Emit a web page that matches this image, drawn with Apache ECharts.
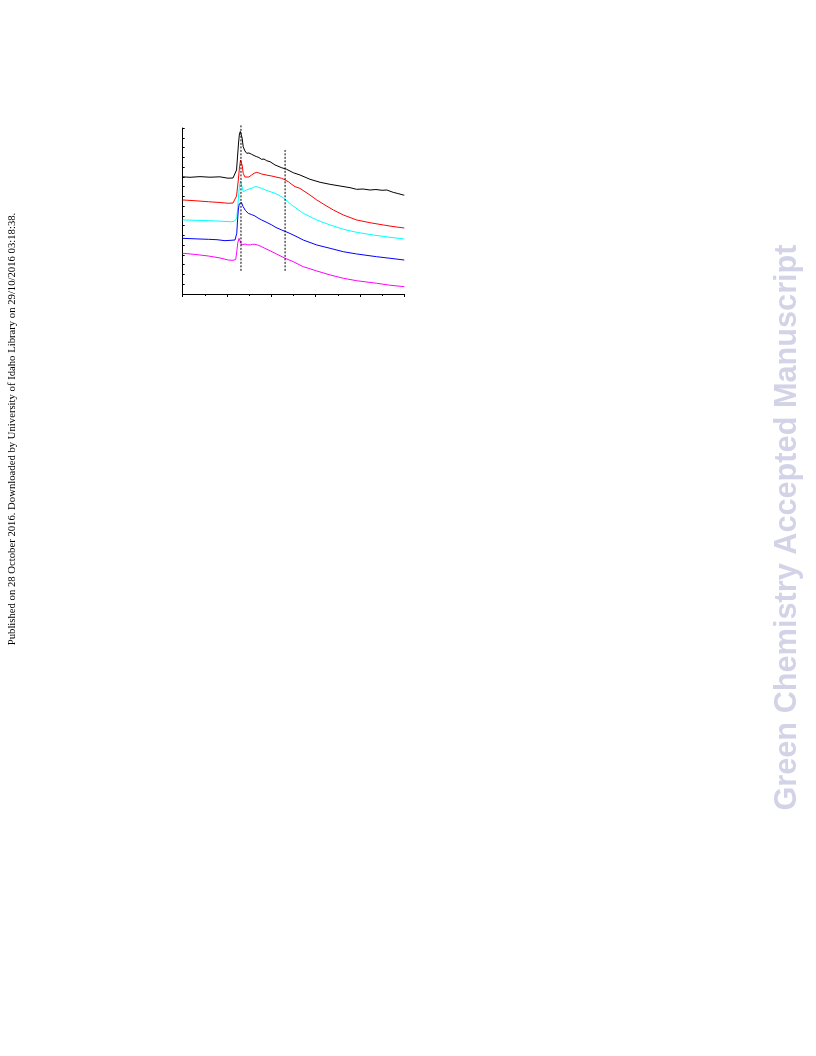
<!DOCTYPE html>
<html>
<head>
<meta charset="utf-8">
<script src="https://cdn.jsdelivr.net/npm/echarts@6/dist/echarts.min.js"></script>
<style>html,body{margin:0;padding:0;background:#fff;}#c{width:816px;height:1056px;}</style>
</head>
<body>
<div id="c"></div>
<script>
// Data (arbitrary units: x 0..10, y offset-stacked 0..17)
const black = [[0,12.0],[0.33,11.95],[0.78,12.02],[1.23,11.96],[1.68,12.0],[2.04,11.86],[2.27,11.88],[2.36,12.08],[2.43,12.70],[2.47,13.93],[2.52,15.46],[2.56,16.39],[2.60,16.64],[2.63,16.59],[2.68,15.98],[2.73,15.08],[2.81,14.64],[2.89,14.41],[2.99,14.44],[3.11,14.31],[3.22,14.18],[3.34,14.06],[3.44,13.98],[3.56,13.79],[3.67,13.82],[3.79,13.65],[3.94,13.55],[4.17,13.21],[4.47,12.93],[4.69,12.77],[4.99,12.42],[5.29,12.19],[5.74,11.75],[6.20,11.44],[6.65,11.23],[7.10,11.06],[7.55,10.89],[7.85,10.72],[8.14,10.75],[8.45,10.65],[8.72,10.70],[9.0,10.62],[9.21,10.65],[9.50,10.41],[9.71,10.29],[9.95,10.14],[10,10.12]];
const red = [[0,9.63],[0.56,9.55],[1.16,9.45],[1.68,9.37],[2.06,9.29],[2.27,9.32],[2.36,9.45],[2.43,10.04],[2.47,10.86],[2.51,11.67],[2.56,12.90],[2.61,13.72],[2.64,13.77],[2.69,13.11],[2.73,12.36],[2.81,11.98],[2.89,11.85],[2.99,11.98],[3.11,12.19],[3.22,12.36],[3.34,12.46],[3.44,12.39],[3.56,12.29],[3.76,12.19],[4.02,12.08],[4.21,11.98],[4.47,11.85],[4.62,11.67],[4.77,11.50],[4.93,11.21],[5.07,10.99],[5.29,10.82],[5.74,10.14],[6.05,9.63],[6.34,9.22],[6.80,8.60],[7.25,8.09],[7.85,7.58],[8.45,7.30],[9.05,7.07],[9.49,6.91],[10,6.76]];
const cyan = [[0,7.58],[0.56,7.55],[1.16,7.51],[1.68,7.46],[2.21,7.40],[2.34,7.48],[2.44,7.75],[2.48,8.81],[2.52,10.04],[2.56,11.06],[2.61,11.57],[2.65,11.37],[2.69,10.86],[2.73,10.48],[2.81,10.55],[2.89,10.65],[2.99,10.75],[3.11,10.82],[3.22,10.96],[3.34,10.99],[3.44,10.91],[3.56,10.82],[3.71,10.68],[3.86,10.55],[4.17,10.31],[4.47,9.96],[4.66,9.63],[4.92,9.11],[5.44,8.26],[6.05,7.58],[6.65,7.07],[7.25,6.63],[7.85,6.32],[8.60,6.04],[9.35,5.81],[10,5.63]];
const blue = [[0,5.70],[0.56,5.65],[1.16,5.60],[1.55,5.56],[1.91,5.46],[2.18,5.50],[2.36,5.53],[2.44,6.22],[2.47,7.37],[2.51,8.60],[2.55,9.22],[2.61,9.42],[2.65,9.37],[2.73,8.94],[2.83,8.55],[2.96,8.26],[3.10,8.14],[3.26,7.99],[3.40,7.78],[3.56,7.58],[3.76,7.37],[4.02,7.07],[4.21,6.81],[4.47,6.55],[4.66,6.38],[4.84,6.20],[5.11,5.91],[5.44,5.53],[6.05,5.02],[6.65,4.68],[7.25,4.33],[7.85,4.10],[8.75,3.82],[9.35,3.66],[10,3.48]];
const magenta = [[0,4.17],[0.56,4.05],[1.16,3.89],[1.68,3.69],[2.06,3.48],[2.27,3.45],[2.39,3.53],[2.44,4.30],[2.48,5.19],[2.54,5.70],[2.59,5.58],[2.66,5.02],[2.72,5.02],[2.81,5.12],[2.92,5.05],[3.04,5.02],[3.15,5.09],[3.26,5.09],[3.38,5.02],[3.49,4.92],[3.71,4.68],[3.94,4.43],[4.17,4.17],[4.39,3.92],[4.62,3.66],[4.99,3.31],[5.44,2.80],[6.05,2.36],[6.65,1.95],[7.25,1.61],[7.85,1.36],[8.75,1.10],[9.35,0.90],[10,0.75]];
const guide1 = [[2.63,2.37],[2.63,17.3]];
const guide2 = [[4.62,2.37],[4.62,14.75]];
const sideNote = 'Published on 28 October 2016. Downloaded by University of Idaho Library on 29/10/2016 03:18:38.';
const watermark = 'Green Chemistry Accepted Manuscript';

const chart = echarts.init(document.getElementById('c'), null, {renderer:'canvas'});
function curve(d, color){
  return {type:'line', data:d, showSymbol:false, symbol:'none', smooth:false,
    lineStyle:{color:color, width:1}, animation:false};
}
function guide(d){
  return {type:'line', data:d, showSymbol:false, symbol:'none', clip:false,
    lineStyle:{color:'#000', width:1, type:[2,1.5]}, animation:false};
}
chart.setOption({
  backgroundColor:'#fff',
  animation:false,
  grid:{left:182.7, right:816-404.3, top:128, bottom:1056-294, containLabel:false},
  xAxis:{type:'value', min:0, max:10, interval:2,
    axisLine:{show:true, lineStyle:{color:'#000', width:1}},
    axisTick:{show:true, inside:false, length:3, lineStyle:{color:'#000', width:1}},
    minorTick:{show:true, splitNumber:2, length:2, lineStyle:{color:'#000', width:1}},
    axisLabel:{show:false}, splitLine:{show:false}},
  yAxis:{type:'value', min:0, max:17, interval:1,
    axisLine:{show:true, lineStyle:{color:'#000', width:1}},
    axisTick:{show:true, inside:true, length:2, lineStyle:{color:'#000', width:1}},
    axisLabel:{show:false}, splitLine:{show:false}},
  series:[curve(black,'#000000'), curve(red,'#ff0000'), curve(cyan,'#00ffff'),
    curve(blue,'#0000ff'), curve(magenta,'#ff00ff'), guide(guide1), guide(guide2)],
  graphic:[
    {type:'text', x:12, y:429, rotation:Math.PI/2,
      style:{text:sideNote, font:'10.7px "Liberation Serif"', fill:'#000', align:'center', verticalAlign:'middle'}},
    {type:'text', x:788, y:527.5, rotation:Math.PI/2,
      style:{text:watermark, font:'bold 30.7px "Liberation Sans"', fill:'#d3d3e8', align:'center', verticalAlign:'middle'}}
  ]
});
</script>
</body>
</html>
